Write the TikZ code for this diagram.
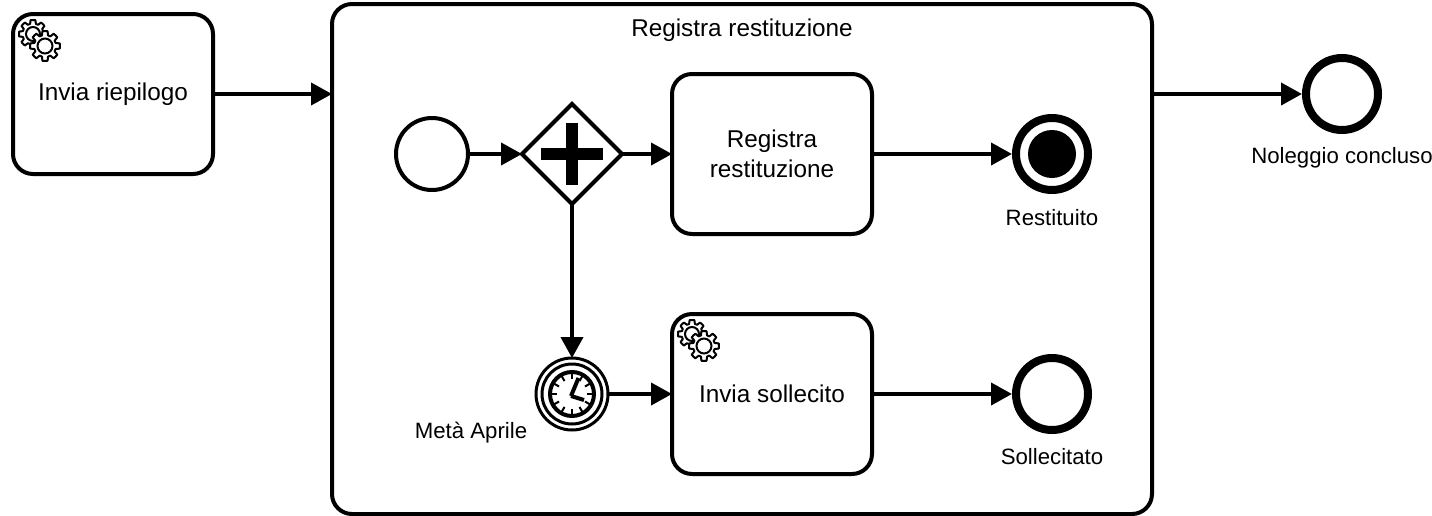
\documentclass[tikz,border=0pt]{standalone}
\usepackage{fontspec}
\setmainfont{Liberation Sans}
\usetikzlibrary{arrows.meta,shapes.geometric,positioning}
\tikzset{
  task/.style={draw, line width=4pt, rounded corners=20pt, minimum width=200pt, minimum height=160pt, outer sep=0pt, inner sep=0pt, align=center, font=\fontsize{24.3}{30}\selectfont},
  evt/.style={draw, circle, line width=8pt, fill=white, minimum size=72pt, outer sep=4pt, inner sep=0pt},
  lbl/.style={inner sep=0pt, font=\fontsize{22.2}{26}\selectfont},
  flow/.style={line width=4pt, -{Triangle[length=21pt,width=22pt]}},
  pics/gears/.style={code={
    \foreach \cx/\cy/\ro/\ri/\rr in {-6/-6/14/10.5/7,6/6/15/11/7.5}{
      \draw[line width=2pt, fill=white, line join=round] ({\cx+\ro},{\cy})
        \foreach \a in {0,45,...,315}{
          -- ({\cx+\ro*cos(\a+10)},{\cy+\ro*sin(\a+10)})
          -- ({\cx+\ri*cos(\a+16)},{\cy+\ri*sin(\a+16)})
          -- ({\cx+\ri*cos(\a+29)},{\cy+\ri*sin(\a+29)})
          -- ({\cx+\ro*cos(\a+35)},{\cy+\ro*sin(\a+35)})
          -- ({\cx+\ro*cos(\a+45)},{\cy+\ro*sin(\a+45)})
        } -- cycle;
      \draw[line width=2pt] (\cx,\cy) circle (\rr);
    }
  }}
}
\begin{document}
\begin{tikzpicture}[x=1pt,y=-1pt]
\useasboundingbox (0,0) rectangle (1432,515);
\node[task] (riepilogo) at (113,94) {Invia riepilogo};
\node[task, minimum width=820pt, minimum height=510pt] (sub) at (742,259) {};
\node[lbl, font=\fontsize{24.3}{28}\selectfont] (subtitle) at (742,30) {Registra restituzione};
\node[evt, line width=4pt, minimum size=72pt, outer sep=0pt] (start) at (432,154) {};
\node[draw, diamond, line width=4pt, minimum width=100pt, minimum height=100pt, outer sep=0pt, inner sep=0pt, fill=white] (gate) at (572,154) {\phantom{+}};
\node[task] (registra) at (772,154) {Registra\\restituzione};
\node[task] (sollecito) at (772,394) {Invia sollecito};
\node[evt] (restituito) at (1052,154) {};
\node[circle, fill=black, minimum size=48pt, inner sep=0pt] (restdot) at (restituito) {};
\node[evt] (sollecitato) at (1052,394) {};
\node[evt] (concluso) at (1342,94) {};
\node[circle, draw, line width=3pt, fill=white, minimum size=72pt, outer sep=0pt, inner sep=0pt] (timer) at (572,394) {};
\node[circle, draw, line width=3pt, minimum size=60pt, inner sep=0pt] (timerin) at (timer) {};
\node[circle, draw, line width=4pt, minimum size=44pt, inner sep=0pt] (clock) at (timer) {};
\node[lbl] (lrest) at (1052,218) {Restituito};
\node[lbl] (lsoll) at (1052,457) {Sollecitato};
\node[lbl] (lconc) at (1342,158) {Noleggio concluso};
\node[lbl] (lmeta) at (471,433) {Metà Aprile};
\draw[line width=12pt] ([xshift=-31pt]gate.center) -- ([xshift=31pt]gate.center);
\draw[line width=12pt] ([yshift=-31pt]gate.center) -- ([yshift=31pt]gate.center);
\foreach \a in {0,30,...,330}
\draw[line width=2pt] (timer) ++(\a:15) -- ++(\a:6);
\draw[line width=4pt] (timer) ++(-1,2) -- ++(7.5,-18);
\draw[line width=4pt] (timer) ++(-1,2) -- ++(13,4);
\pic at ([shift={(26,26)}]riepilogo.north west) {gears};
\pic at ([shift={(26,26)}]sollecito.north west) {gears};
\draw[flow] (riepilogo.east) -- (riepilogo.east -| sub.west);
\draw[flow] (sub.east |- concluso.west) -- (concluso.west);
\draw[flow] (start) -- (gate);
\draw[flow] (gate) -- (registra);
\draw[flow] (registra) -- (restituito);
\draw[flow] (gate) -- (timer);
\draw[flow] (timer) -- (sollecito);
\draw[flow] (sollecito) -- (sollecitato);
\end{tikzpicture}
\end{document}
